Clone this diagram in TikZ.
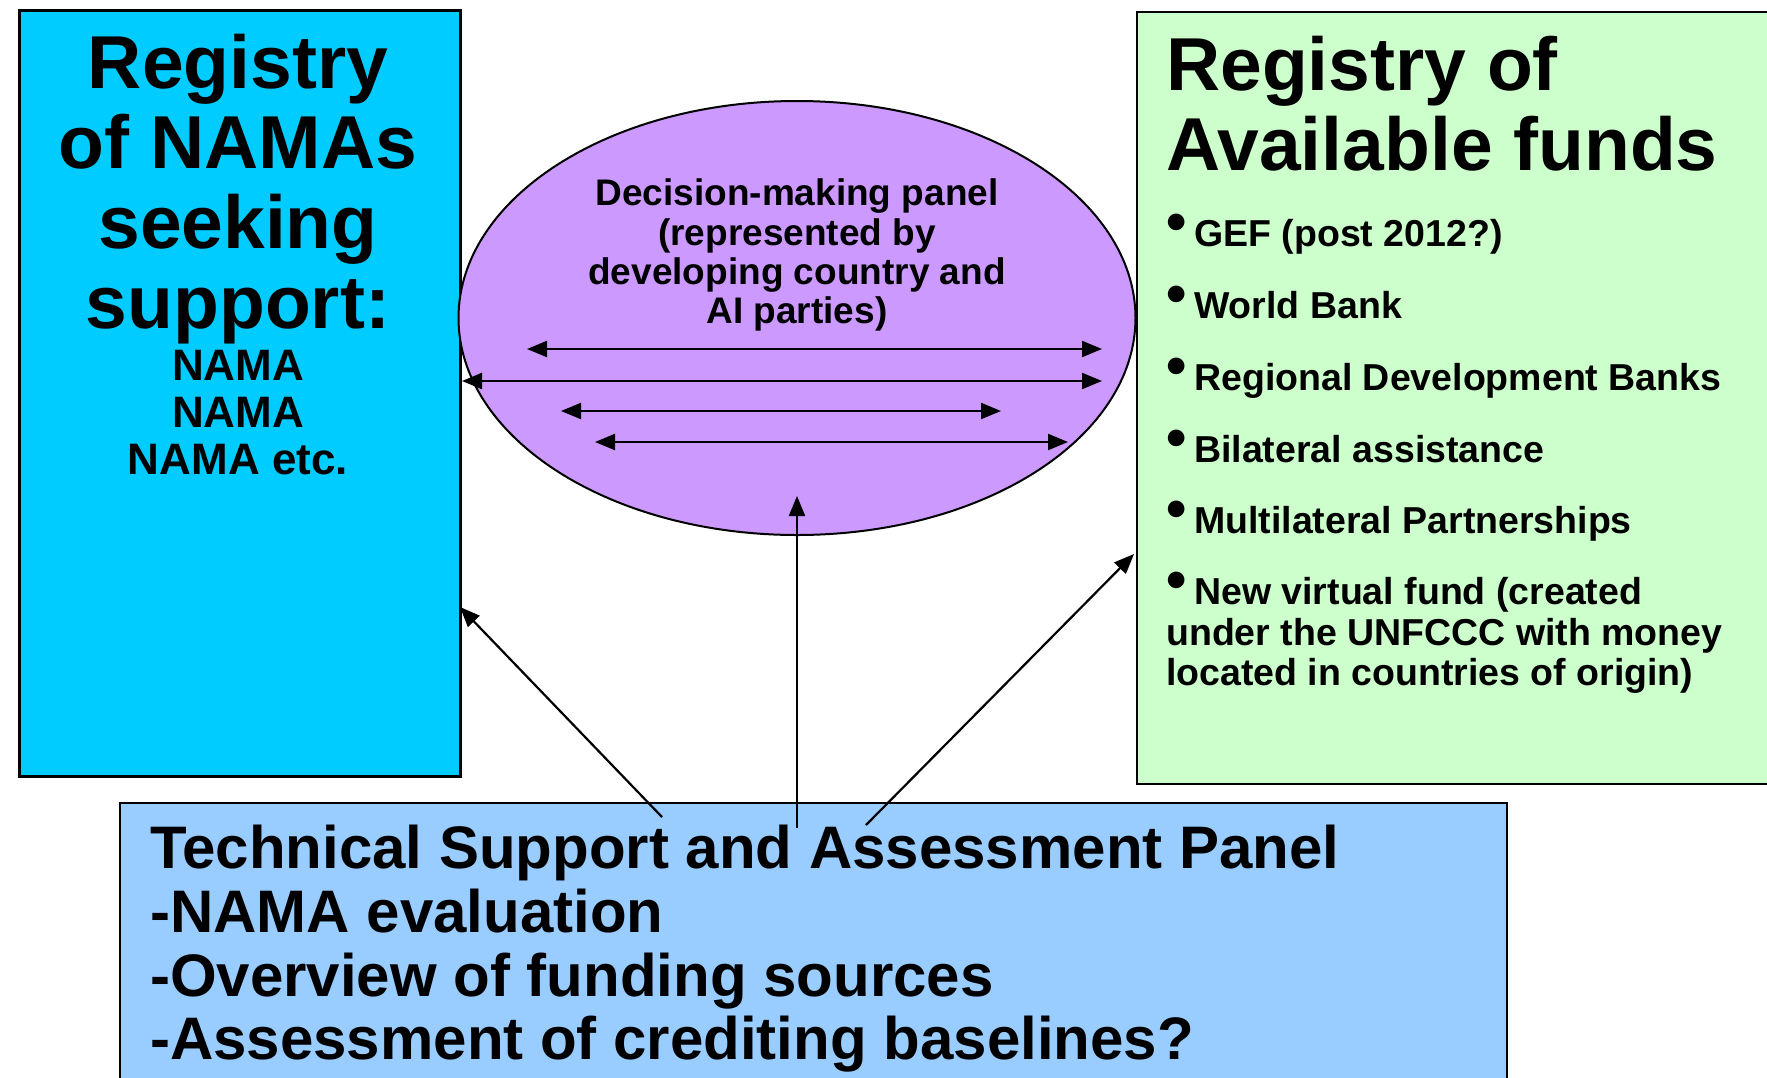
\documentclass[tikz,border=0pt]{standalone}
\usepackage{fontspec}
\setmainfont{Liberation Sans}
\usetikzlibrary{shapes.geometric,arrows.meta}
\definecolor{leftfill}{HTML}{00CCFF}
\definecolor{ellfill}{HTML}{CC99FF}
\definecolor{rightfill}{HTML}{CCFFCC}
\definecolor{botfill}{HTML}{99CCFF}
\begin{document}
\begin{tikzpicture}[x=1pt,y=-1pt,
  box/.style={draw=black, line width=2.5pt, rectangle, inner sep=0pt, anchor=north west},
  tip/.tip={Triangle[length=20pt,width=16pt]},
  link/.style={line width=2.2pt, -tip},
  both/.style={line width=2.2pt, tip-tip},
  txt/.style={inner sep=0pt, anchor=base},
  txtl/.style={inner sep=0pt, anchor=base west},
  big/.style={font=\bfseries\fontsize{75}{80}\selectfont},
  mid/.style={font=\bfseries\fontsize{44}{48}\selectfont},
  item/.style={font=\bfseries\fontsize{37.5}{40}\selectfont},
  ell/.style={font=\bfseries\fontsize{37}{40}\selectfont},
  bot/.style={font=\bfseries\fontsize{60}{64}\selectfont},
  dot/.style={inner sep=0pt, anchor=base west, text depth=0pt, font=\bfseries\fontsize{58}{58}\selectfont}
]
\useasboundingbox (0,0) rectangle (1767,1077);
\fill[white] (0,0) rectangle (1767,1077);

% boxes
\node[box, fill=leftfill, minimum width=441pt, minimum height=766pt] (reg) at (18,9) {};
\node[box, line width=2pt, fill=rightfill, minimum width=680pt, minimum height=772pt] (funds) at (1136,11) {};
\node[ellipse, draw=black, line width=2pt, fill=ellfill, minimum width=677pt, minimum height=434pt, inner sep=0pt] (panel) at (797,318) {};
\node[box, line width=2pt, fill=botfill, minimum width=1387pt, minimum height=320pt] (tsap) at (119,802) {};

% left box text
\node[txt, big] (l1) at (238,88) {Registry};
\node[txt, big] (l2) at (238,168) {of NAMAs};
\node[txt, big] (l3) at (238,248) {seeking};
\node[txt, big] (l4) at (238,328) {support:};
\node[txt, mid] (l5) at (238,380) {NAMA};
\node[txt, mid] (l6) at (238,427) {NAMA};
\node[txt, mid] (l7) at (238,474) {NAMA etc.};

% ellipse text
\node[txt, ell] (e1) at (797,205) {Decision-making panel};
\node[txt, ell] (e2) at (797,245) {(represented by};
\node[txt, ell] (e3) at (797,284) {developing country and};
\node[txt, ell] (e4) at (797,323) {AI parties)};

% right box text
\node[txtl, big] (r1) at (1166,90) {Registry of};
\node[txtl, big] (r2) at (1166,170) {Available funds};
\node[dot] (b1) at (1166,241) {•};
\node[txtl, item] (i1) at (1194,246) {GEF (post 2012?)};
\node[dot] (b2) at (1166,313) {•};
\node[txtl, item] (i2) at (1194,318) {World Bank};
\node[dot] (b3) at (1166,385) {•};
\node[txtl, item] (i3) at (1194,390) {Regional Development Banks};
\node[dot] (b4) at (1166,457) {•};
\node[txtl, item] (i4) at (1194,462) {Bilateral assistance};
\node[dot] (b5) at (1166,528) {•};
\node[txtl, item] (i5) at (1194,533) {Multilateral Partnerships};
\node[dot] (b6) at (1166,599) {•};
\node[txtl, item] (i6) at (1194,604) {New virtual fund (created};
\node[txtl, item] (i7) at (1166,645) {under the UNFCCC with money};
\node[txtl, item] (i8) at (1166,685) {located in countries of origin)};

% bottom text
\node[txtl, bot] (t1) at (150,868) {Technical Support and Assessment Panel};
\node[txtl, bot] (t2) at (150,932) {-NAMA evaluation};
\node[txtl, bot] (t3) at (150,996) {-Overview of funding sources};
\node[txtl, bot] (t4) at (150,1059) {-Assessment of crediting baselines?};

% arrow end points
\coordinate (a1l) at (527,349); \coordinate (a1r) at (1102,349);
\coordinate (a2l) at (462,381); \coordinate (a2r) at (1102,381);
\coordinate (a3l) at (561,411); \coordinate (a3r) at (1001,411);
\coordinate (a4l) at (595,442); \coordinate (a4r) at (1068,442);
\coordinate (vs) at (797,828); \coordinate (ve) at (797,496);
\coordinate (ls) at (662,817); \coordinate (le) at (460,607);
\coordinate (rs) at (866,825); \coordinate (re) at (1134,554);

\draw[both] (a1l) -- (a1r);
\draw[both] (a2l) -- (a2r);
\draw[both] (a3l) -- (a3r);
\draw[both] (a4l) -- (a4r);
\draw[link] (vs) -- (ve);
\draw[link] (ls) -- (le);
\draw[link] (rs) -- (re);
\end{tikzpicture}
\end{document}
